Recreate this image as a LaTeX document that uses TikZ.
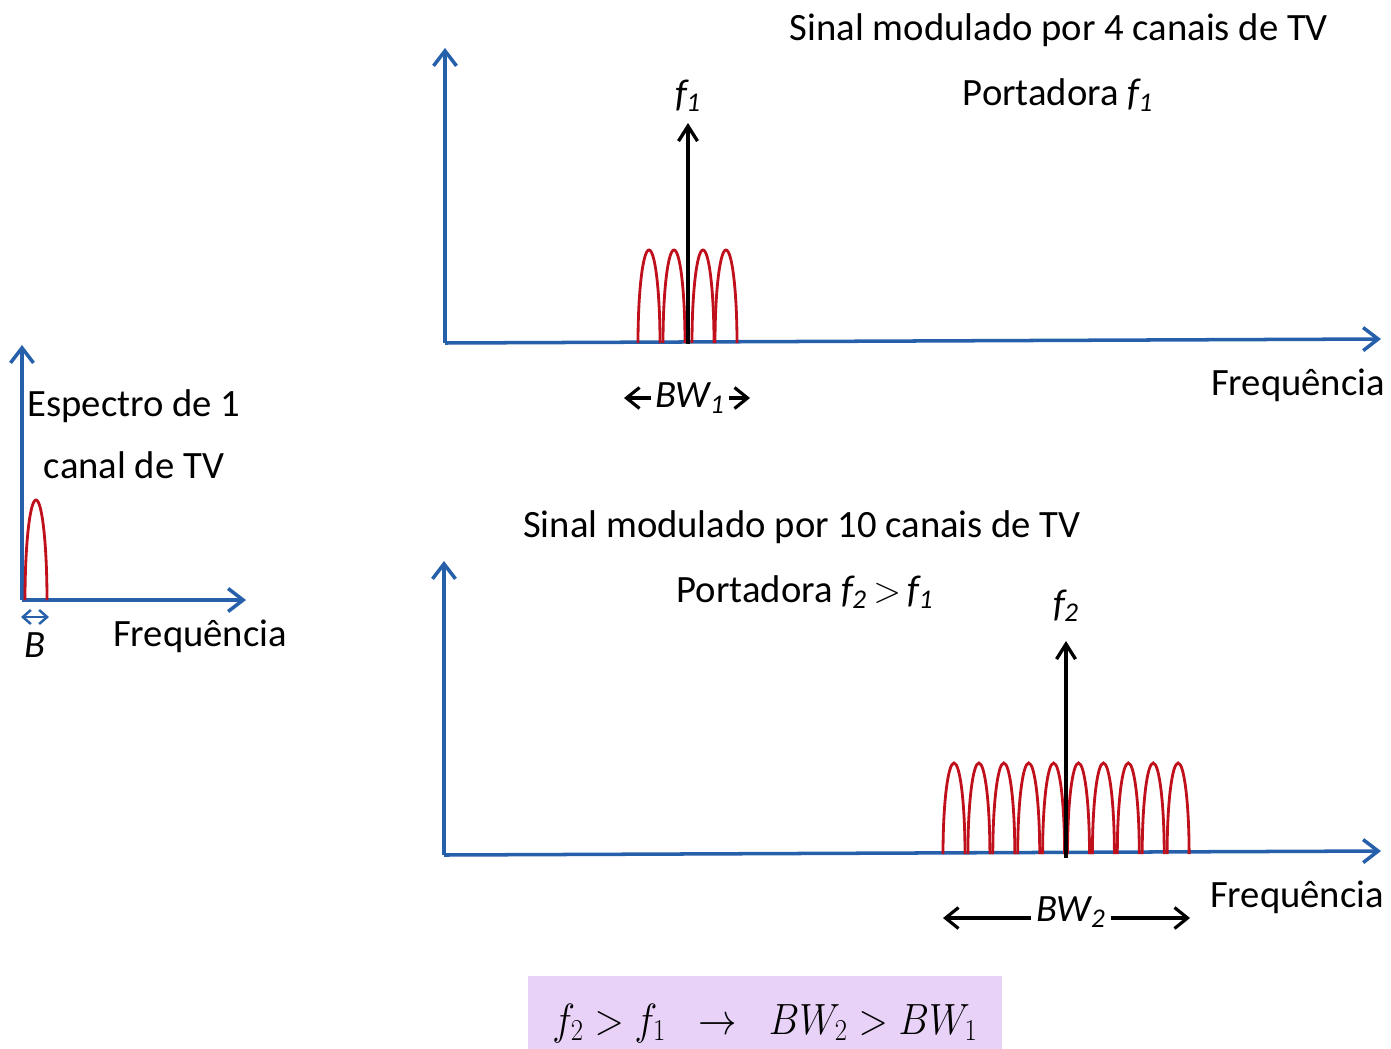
\documentclass[tikz,border=0pt]{standalone}
\usepackage{fontspec}
\setmainfont{Carlito}
\usetikzlibrary{arrows.meta,positioning}

\definecolor{axisblue}{RGB}{38,96,170}
\definecolor{lobered}{RGB}{192,16,28}
\definecolor{boxlilac}{RGB}{232,210,247}

\begin{document}
\begin{tikzpicture}[x=0.02cm, y=-0.02cm]
  \tikzset{
    axis_line/.style={draw=axisblue, line width=2pt, -{Straight Barb[length=3mm,width=4.6mm]}},
    lobe/.style={draw=lobered, line width=1.6pt},
    carrier/.style={draw=black, line width=1.9pt, -{Straight Barb[length=3mm,width=3.8mm]}},
    bw_arrow/.style={draw=black, line width=1.8pt, -{Straight Barb[length=2.6mm,width=4.2mm]}},
    label_text/.style={inner sep=2pt, font=\fontsize{22}{35}\selectfont},
    formula_box/.style={fill=boxlilac, minimum width=9.5cm, minimum height=1.46cm, inner sep=0pt, text height=1.1cm, text depth=0.22cm, font=\fontsize{24}{28}\selectfont}
  }
  \useasboundingbox (0,0) rectangle (1391,1048);

  % Espectro de un canal
  \coordinate (o_left) at (22,600);
  \coordinate (y_left) at (22,345);
  \coordinate (x_left) at (246,600);
  \coordinate (b_start) at (21,617);
  \coordinate (b_end) at (49,617);
  \draw[axis_line] (o_left) -- (y_left);
  \draw[axis_line] (o_left) -- (x_left);
  \draw[lobe] (25,600) arc[start angle=180, end angle=360, x radius=11, y radius=100];
  \draw[draw=axisblue, line width=1.4pt, {Straight Barb[length=1.6mm,width=2.8mm]}-{Straight Barb[length=1.6mm,width=2.8mm]}] (b_start) -- (b_end);
  \node[label_text, align=center] (spec_one) at (134,434) {Espectro de 1\\canal de TV};
  \node[label_text] (b_label) at (35,645) {\textit{B}};
  \node[label_text] (freq_left) at (200,636) {Frequência};

  % Señal con 4 canales
  \coordinate (o_top) at (445,343);
  \coordinate (y_top) at (445,48);
  \coordinate (x_top) at (1381,339);
  \draw[axis_line] (o_top) -- (y_top);
  \draw[axis_line] (o_top) -- (x_top);
  \foreach \x in {638,663,692,715}
    \draw[lobe] (\x,343) arc[start angle=180, end angle=360, x radius=11, y radius=93];
  \coordinate (c1) at (688,344);
  \coordinate (c1_tip) at (688,123);
  \draw[carrier] (c1) -- (c1_tip);
  \node[label_text] (f1) at (688,96) {\textit{f}\kern-1.5pt\textsubscript{\textit{1}}};
  \node[label_text] (title_top) at (1059,30) {Sinal modulado por 4 canais de TV};
  \node[label_text] (port_top) at (1058,95) {Portadora \textit{f}\kern-1.5pt\textsubscript{\textit{1}}};
  \node[label_text] (bw1) at (690,398) {\textit{BW}\kern-1pt\textsubscript{\textit{1}}};
  \coordinate (bw1_left) at (624,398);
  \coordinate (bw1_right) at (750,398);
  \draw[bw_arrow] (bw1.west) -- (bw1_left);
  \draw[bw_arrow] (bw1.east) -- (bw1_right);
  \node[label_text] (freq_top) at (1298,385) {Frequência};

  % Señal con 10 canales
  \coordinate (o_bot) at (444,855);
  \coordinate (y_bot) at (444,561);
  \coordinate (x_bot) at (1381,851);
  \draw[axis_line] (o_bot) -- (y_bot);
  \draw[axis_line] (o_bot) -- (x_bot);
  \foreach \i in {0,...,9}
    \draw[lobe] (943+24.9*\i,854) arc[start angle=180, end angle=360, x radius=11, y radius=91];
  \coordinate (c2) at (1066,858);
  \coordinate (c2_tip) at (1066,641);
  \draw[carrier] (c2) -- (c2_tip);
  \node[label_text] (f2) at (1066,606) {\textit{f}\kern-1.5pt\textsubscript{\textit{2}}};
  \node[label_text] (title_bot) at (802,527) {Sinal modulado por 10 canais de TV};
  \node[label_text] (port_bot) at (805,592) {Portadora \textit{f}\kern-1.5pt\textsubscript{\textit{2}}\,$>$\,\textit{f}\kern-1.5pt\textsubscript{\textit{1}}};
  \node[label_text] (bw2) at (1071,912) {\textit{BW}\kern-1pt\textsubscript{\textit{2}}};
  \coordinate (bw2_left) at (943,918);
  \coordinate (bw2_right) at (1190,918);
  \draw[bw_arrow] (1031,918) -- (bw2_left);
  \draw[bw_arrow] (1111,918) -- (bw2_right);
  \node[label_text] (freq_bot) at (1297,897) {Frequência};

  % Relación final
  \node[formula_box] (relation) at (765,1012) {\scalebox{0.88}[1]{$f_2 > f_1 \;\;\rightarrow\;\; BW_2 > BW_1$}};
\end{tikzpicture}
\end{document}
